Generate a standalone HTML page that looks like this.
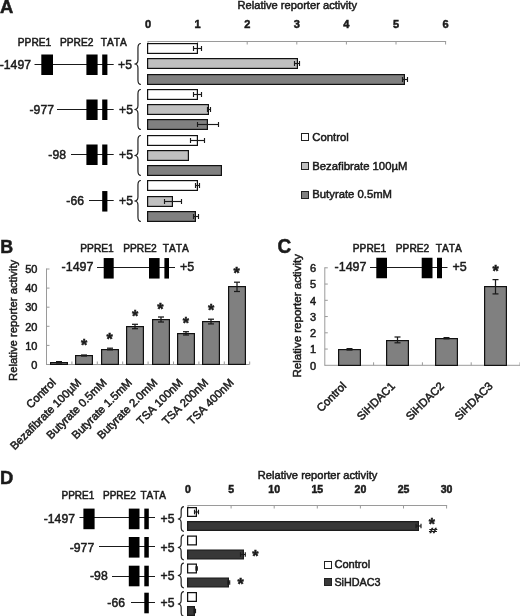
<!DOCTYPE html>
<html lang="en"><head><meta charset="utf-8"><title>Relative reporter activity</title>
<style>html,body{margin:0;padding:0;background:#fff}svg{display:block;filter:grayscale(1)}text{font-family:"Liberation Sans",sans-serif;fill:#1a1a1a;stroke:#1a1a1a;stroke-width:.5px;font-kerning:none;paint-order:stroke}</style></head><body>
<svg width="520" height="616" viewBox="0 0 520 616">
<rect width="520" height="616" fill="#fff"/>
<g id="panelA">
<text transform="translate(-0.1 12.7) scale(0.97 1)" font-size="19" font-weight="bold" stroke-width="0">A</text>
<text x="237.5" y="8.6" font-size="11.15" font-weight="normal" text-anchor="start">Relative reporter activity</text>
<text x="148" y="28" font-size="11" font-weight="bold" text-anchor="middle" stroke-width="0">0</text>
<line x1="148" y1="41.5" x2="148" y2="44.5" stroke="#9a9a9a" stroke-width="1"/>
<text x="197.6" y="28" font-size="11" font-weight="bold" text-anchor="middle" stroke-width="0">1</text>
<line x1="197.6" y1="41.5" x2="197.6" y2="44.5" stroke="#9a9a9a" stroke-width="1"/>
<text x="247.2" y="28" font-size="11" font-weight="bold" text-anchor="middle" stroke-width="0">2</text>
<line x1="247.2" y1="41.5" x2="247.2" y2="44.5" stroke="#9a9a9a" stroke-width="1"/>
<text x="296.8" y="28" font-size="11" font-weight="bold" text-anchor="middle" stroke-width="0">3</text>
<line x1="296.8" y1="41.5" x2="296.8" y2="44.5" stroke="#9a9a9a" stroke-width="1"/>
<text x="346.4" y="28" font-size="11" font-weight="bold" text-anchor="middle" stroke-width="0">4</text>
<line x1="346.4" y1="41.5" x2="346.4" y2="44.5" stroke="#9a9a9a" stroke-width="1"/>
<text x="396" y="28" font-size="11" font-weight="bold" text-anchor="middle" stroke-width="0">5</text>
<line x1="396" y1="41.5" x2="396" y2="44.5" stroke="#9a9a9a" stroke-width="1"/>
<text x="445.6" y="28" font-size="11" font-weight="bold" text-anchor="middle" stroke-width="0">6</text>
<line x1="445.6" y1="41.5" x2="445.6" y2="44.5" stroke="#9a9a9a" stroke-width="1"/>
<line x1="147.5" y1="41.5" x2="446.1" y2="41.5" stroke="#9a9a9a" stroke-width="1"/>
<text x="17.8" y="45.8" font-size="10.2" font-weight="normal" text-anchor="start" stroke-width="0.65">PPRE1</text>
<text x="60" y="45.8" font-size="10.2" font-weight="normal" text-anchor="start" stroke-width="0.65">PPRE2</text>
<text x="100.8" y="45.8" font-size="10.2" font-weight="normal" text-anchor="start" stroke-width="0.65">TATA</text>
<text transform="translate(31 68.8) scale(0.94 1)" font-size="13" font-weight="normal" text-anchor="end" stroke-width="0.6">-1497</text>
<line x1="34.5" y1="64.5" x2="113.7" y2="64.5" stroke="#1a1a1a" stroke-width="1"/>
<rect x="41.3" y="54.5" width="11.7" height="20.5" fill="#000"/>
<rect x="86.4" y="54.5" width="11.2" height="20.5" fill="#000"/>
<rect x="102.2" y="54.5" width="5.2" height="20.5" fill="#000"/>
<text transform="translate(118 68.8) scale(0.94 1)" font-size="13" font-weight="normal" text-anchor="start" stroke-width="0.6">+5</text>
<text transform="translate(54 113.8) scale(0.94 1)" font-size="13" font-weight="normal" text-anchor="end" stroke-width="0.6">-977</text>
<line x1="57" y1="109.5" x2="113.7" y2="109.5" stroke="#1a1a1a" stroke-width="1"/>
<rect x="86.4" y="99.5" width="11.2" height="20.5" fill="#000"/>
<rect x="102.2" y="99.5" width="5.2" height="20.5" fill="#000"/>
<text transform="translate(119 113.8) scale(0.94 1)" font-size="13" font-weight="normal" text-anchor="start" stroke-width="0.6">+5</text>
<text transform="translate(66 158.8) scale(0.94 1)" font-size="13" font-weight="normal" text-anchor="end" stroke-width="0.6">-98</text>
<line x1="71" y1="154.5" x2="113.7" y2="154.5" stroke="#1a1a1a" stroke-width="1"/>
<rect x="86.4" y="144.5" width="11.2" height="20.5" fill="#000"/>
<rect x="102.2" y="144.5" width="5.2" height="20.5" fill="#000"/>
<text transform="translate(119 158.8) scale(0.94 1)" font-size="13" font-weight="normal" text-anchor="start" stroke-width="0.6">+5</text>
<text transform="translate(84 204.8) scale(0.94 1)" font-size="13" font-weight="normal" text-anchor="end" stroke-width="0.6">-66</text>
<line x1="89" y1="200.5" x2="113.7" y2="200.5" stroke="#1a1a1a" stroke-width="1"/>
<rect x="102.2" y="191.05" width="5.2" height="20.5" fill="#000"/>
<text transform="translate(119 204.8) scale(0.94 1)" font-size="13" font-weight="normal" text-anchor="start" stroke-width="0.6">+5</text>
<rect x="147.6" y="43.6" width="49.8" height="9.8" fill="#fff" stroke="#111" stroke-width="1.2"/>
<line x1="193.5" y1="48.5" x2="201.5" y2="48.5" stroke="#1a1a1a" stroke-width="1.15"/>
<line x1="193.5" y1="46" x2="193.5" y2="51" stroke="#1a1a1a" stroke-width="1.15"/>
<line x1="201.5" y1="46" x2="201.5" y2="51" stroke="#1a1a1a" stroke-width="1.15"/>
<rect x="147.6" y="58.6" width="149.8" height="9.8" fill="#c0c0c0" stroke="#111" stroke-width="1.2"/>
<line x1="294.5" y1="63.5" x2="299.5" y2="63.5" stroke="#1a1a1a" stroke-width="1.15"/>
<line x1="294.5" y1="61" x2="294.5" y2="66" stroke="#1a1a1a" stroke-width="1.15"/>
<line x1="299.5" y1="61" x2="299.5" y2="66" stroke="#1a1a1a" stroke-width="1.15"/>
<rect x="147.6" y="74.6" width="256.8" height="9.8" fill="#808080" stroke="#111" stroke-width="1.2"/>
<line x1="402.5" y1="79.5" x2="407.5" y2="79.5" stroke="#1a1a1a" stroke-width="1.15"/>
<line x1="402.5" y1="77" x2="402.5" y2="82" stroke="#1a1a1a" stroke-width="1.15"/>
<line x1="407.5" y1="77" x2="407.5" y2="82" stroke="#1a1a1a" stroke-width="1.15"/>
<rect x="147.6" y="89.6" width="49.8" height="9.8" fill="#fff" stroke="#111" stroke-width="1.2"/>
<line x1="193.5" y1="94.5" x2="201.5" y2="94.5" stroke="#1a1a1a" stroke-width="1.15"/>
<line x1="193.5" y1="92" x2="193.5" y2="97" stroke="#1a1a1a" stroke-width="1.15"/>
<line x1="201.5" y1="92" x2="201.5" y2="97" stroke="#1a1a1a" stroke-width="1.15"/>
<rect x="147.6" y="104.6" width="60.8" height="9.8" fill="#c0c0c0" stroke="#111" stroke-width="1.2"/>
<line x1="207.5" y1="109.5" x2="210.5" y2="109.5" stroke="#1a1a1a" stroke-width="1.15"/>
<line x1="207.5" y1="107" x2="207.5" y2="112" stroke="#1a1a1a" stroke-width="1.15"/>
<line x1="210.5" y1="107" x2="210.5" y2="112" stroke="#1a1a1a" stroke-width="1.15"/>
<rect x="147.6" y="119.6" width="59.8" height="9.8" fill="#808080" stroke="#111" stroke-width="1.2"/>
<line x1="197.5" y1="124.5" x2="218.5" y2="124.5" stroke="#1a1a1a" stroke-width="1.15"/>
<line x1="197.5" y1="122" x2="197.5" y2="127" stroke="#1a1a1a" stroke-width="1.15"/>
<line x1="218.5" y1="122" x2="218.5" y2="127" stroke="#1a1a1a" stroke-width="1.15"/>
<rect x="147.6" y="135.6" width="49.8" height="9.8" fill="#fff" stroke="#111" stroke-width="1.2"/>
<line x1="190.5" y1="140.5" x2="204.5" y2="140.5" stroke="#1a1a1a" stroke-width="1.15"/>
<line x1="190.5" y1="138" x2="190.5" y2="143" stroke="#1a1a1a" stroke-width="1.15"/>
<line x1="204.5" y1="138" x2="204.5" y2="143" stroke="#1a1a1a" stroke-width="1.15"/>
<rect x="147.6" y="150.6" width="40.8" height="9.8" fill="#c0c0c0" stroke="#111" stroke-width="1.2"/>
<rect x="147.6" y="165.6" width="73.8" height="9.8" fill="#808080" stroke="#111" stroke-width="1.2"/>
<rect x="147.6" y="180.6" width="49.8" height="9.8" fill="#fff" stroke="#111" stroke-width="1.2"/>
<line x1="195.5" y1="185.5" x2="199.5" y2="185.5" stroke="#1a1a1a" stroke-width="1.15"/>
<line x1="195.5" y1="183" x2="195.5" y2="188" stroke="#1a1a1a" stroke-width="1.15"/>
<line x1="199.5" y1="183" x2="199.5" y2="188" stroke="#1a1a1a" stroke-width="1.15"/>
<rect x="147.6" y="196.6" width="24.8" height="9.8" fill="#c0c0c0" stroke="#111" stroke-width="1.2"/>
<line x1="164.5" y1="201.5" x2="181.5" y2="201.5" stroke="#1a1a1a" stroke-width="1.15"/>
<line x1="164.5" y1="199" x2="164.5" y2="204" stroke="#1a1a1a" stroke-width="1.15"/>
<line x1="181.5" y1="199" x2="181.5" y2="204" stroke="#1a1a1a" stroke-width="1.15"/>
<rect x="147.6" y="211.6" width="47.8" height="9.8" fill="#808080" stroke="#111" stroke-width="1.2"/>
<line x1="193.5" y1="216.5" x2="198.5" y2="216.5" stroke="#1a1a1a" stroke-width="1.15"/>
<line x1="193.5" y1="214" x2="193.5" y2="219" stroke="#1a1a1a" stroke-width="1.15"/>
<line x1="198.5" y1="214" x2="198.5" y2="219" stroke="#1a1a1a" stroke-width="1.15"/>
<path d="M140.9 43.5 Q137.95 43.5 137.95 47.95 L137.95 60.05 Q137.95 64 134.4 64 Q137.95 64 137.95 67.95 L137.95 80.05 Q137.95 84.5 140.9 84.5" fill="none" stroke="#222" stroke-width="1.2"/>
<path d="M140.9 89.5 Q137.95 89.5 137.95 93.95 L137.95 105.55 Q137.95 109.5 134.4 109.5 Q137.95 109.5 137.95 113.45 L137.95 125.05 Q137.95 129.5 140.9 129.5" fill="none" stroke="#222" stroke-width="1.2"/>
<path d="M140.9 135.5 Q137.95 135.5 137.95 139.95 L137.95 151.55 Q137.95 155.5 134.4 155.5 Q137.95 155.5 137.95 159.45 L137.95 171.05 Q137.95 175.5 140.9 175.5" fill="none" stroke="#222" stroke-width="1.2"/>
<path d="M140.9 180.5 Q137.95 180.5 137.95 184.95 L137.95 197.05 Q137.95 201 134.4 201 Q137.95 201 137.95 204.95 L137.95 217.05 Q137.95 221.5 140.9 221.5" fill="none" stroke="#222" stroke-width="1.2"/>
<rect x="301.5" y="133.5" width="7" height="7" fill="#fff" stroke="#222" stroke-width="1"/>
<text x="312.3" y="140.6" font-size="11.3" font-weight="normal" text-anchor="start">Control</text>
<rect x="301.5" y="162.5" width="7" height="7" fill="#c0c0c0" stroke="#222" stroke-width="1"/>
<text x="312.3" y="169.5" font-size="11.3" font-weight="normal" text-anchor="start">Bezafibrate 100µM</text>
<rect x="301.5" y="191.5" width="7" height="7" fill="#808080" stroke="#222" stroke-width="1"/>
<text x="312.3" y="198.3" font-size="11.3" font-weight="normal" text-anchor="start">Butyrate 0.5mM</text>
</g>
<g id="panelB">
<text transform="translate(0.2 253.4) scale(0.94 1)" font-size="19" font-weight="bold" stroke-width="0">B</text>
<text transform="translate(16.6 320.4) rotate(-90)" font-size="11.3" text-anchor="middle">Relative reporter activity</text>
<text x="37.4" y="368.7" font-size="11" font-weight="normal" text-anchor="end" stroke-width="0.7">0</text>
<text x="37.4" y="349.6" font-size="11" font-weight="normal" text-anchor="end" stroke-width="0.7">10</text>
<line x1="46.5" y1="345.4" x2="49.5" y2="345.4" stroke="#9a9a9a" stroke-width="1"/>
<text x="37.4" y="330.5" font-size="11" font-weight="normal" text-anchor="end" stroke-width="0.7">20</text>
<line x1="46.5" y1="326.3" x2="49.5" y2="326.3" stroke="#9a9a9a" stroke-width="1"/>
<text x="37.4" y="311.4" font-size="11" font-weight="normal" text-anchor="end" stroke-width="0.7">30</text>
<line x1="46.5" y1="307.2" x2="49.5" y2="307.2" stroke="#9a9a9a" stroke-width="1"/>
<text x="37.4" y="292.3" font-size="11" font-weight="normal" text-anchor="end" stroke-width="0.7">40</text>
<line x1="46.5" y1="288.1" x2="49.5" y2="288.1" stroke="#9a9a9a" stroke-width="1"/>
<text x="37.4" y="273.2" font-size="11" font-weight="normal" text-anchor="end" stroke-width="0.7">50</text>
<line x1="46.5" y1="269" x2="49.5" y2="269" stroke="#9a9a9a" stroke-width="1"/>
<line x1="46.5" y1="268.5" x2="46.5" y2="365" stroke="#9a9a9a" stroke-width="1"/>
<line x1="46.5" y1="364.5" x2="249.5" y2="364.5" stroke="#9a9a9a" stroke-width="1"/>
<line x1="71.9" y1="361.5" x2="71.9" y2="364.5" stroke="#9a9a9a" stroke-width="1"/>
<line x1="97.3" y1="361.5" x2="97.3" y2="364.5" stroke="#9a9a9a" stroke-width="1"/>
<line x1="122.7" y1="361.5" x2="122.7" y2="364.5" stroke="#9a9a9a" stroke-width="1"/>
<line x1="148.1" y1="361.5" x2="148.1" y2="364.5" stroke="#9a9a9a" stroke-width="1"/>
<line x1="173.5" y1="361.5" x2="173.5" y2="364.5" stroke="#9a9a9a" stroke-width="1"/>
<line x1="198.9" y1="361.5" x2="198.9" y2="364.5" stroke="#9a9a9a" stroke-width="1"/>
<line x1="224.3" y1="361.5" x2="224.3" y2="364.5" stroke="#9a9a9a" stroke-width="1"/>
<line x1="249.7" y1="361.5" x2="249.7" y2="364.5" stroke="#9a9a9a" stroke-width="1"/>
<text x="80.3" y="252.2" font-size="10.2" font-weight="normal" text-anchor="start" stroke-width="0.65">PPRE1</text>
<text x="123.2" y="252.2" font-size="10.2" font-weight="normal" text-anchor="start" stroke-width="0.65">PPRE2</text>
<text x="162.8" y="252.2" font-size="10.2" font-weight="normal" text-anchor="start" stroke-width="0.65">TATA</text>
<text transform="translate(93.5 271.3) scale(0.94 1)" font-size="13.3" font-weight="normal" text-anchor="end" stroke-width="0.6">-1497</text>
<line x1="97" y1="267.5" x2="175" y2="267.5" stroke="#1a1a1a" stroke-width="1"/>
<rect x="103.7" y="258.05" width="10" height="20.5" fill="#000"/>
<rect x="149" y="258.05" width="10.6" height="20.5" fill="#000"/>
<rect x="164.4" y="258.05" width="4.6" height="20.5" fill="#000"/>
<text transform="translate(180 271.3) scale(0.94 1)" font-size="13.3" font-weight="normal" text-anchor="start" stroke-width="0.6">+5</text>
<rect x="50.6" y="362.6" width="16.8" height="1.8" fill="#808080" stroke="#111" stroke-width="1.2"/>
<line x1="59" y1="361.6" x2="59" y2="363" stroke="#1a1a1a" stroke-width="1.25"/>
<line x1="56" y1="361.6" x2="62" y2="361.6" stroke="#1a1a1a" stroke-width="1.25"/>
<line x1="56" y1="363" x2="62" y2="363" stroke="#1a1a1a" stroke-width="1.25"/>
<text transform="translate(56.5 383.3) rotate(-45)" font-size="11.3" text-anchor="end">Control</text>
<rect x="75.6" y="355.6" width="16.8" height="8.8" fill="#808080" stroke="#111" stroke-width="1.2"/>
<line x1="84" y1="355" x2="84" y2="356" stroke="#1a1a1a" stroke-width="1.25"/>
<line x1="81" y1="355" x2="87" y2="355" stroke="#1a1a1a" stroke-width="1.25"/>
<line x1="81" y1="356" x2="87" y2="356" stroke="#1a1a1a" stroke-width="1.25"/>
<text x="84.2" y="350.82" font-size="16" font-weight="bold" text-anchor="middle" stroke-width="0">*</text>
<text transform="translate(81.9 383.3) rotate(-45)" font-size="11.3" text-anchor="end">Bezafibrate 100µM</text>
<rect x="101.6" y="349.6" width="16.8" height="14.8" fill="#808080" stroke="#111" stroke-width="1.2"/>
<line x1="110" y1="348.2" x2="110" y2="349.8" stroke="#1a1a1a" stroke-width="1.25"/>
<line x1="107" y1="348.2" x2="113" y2="348.2" stroke="#1a1a1a" stroke-width="1.25"/>
<line x1="107" y1="349.8" x2="113" y2="349.8" stroke="#1a1a1a" stroke-width="1.25"/>
<text x="109.6" y="345.32" font-size="16" font-weight="bold" text-anchor="middle" stroke-width="0">*</text>
<text transform="translate(107.3 383.3) rotate(-45)" font-size="11.3" text-anchor="end">Butyrate 0.5mM</text>
<rect x="126.6" y="326.6" width="16.8" height="37.8" fill="#808080" stroke="#111" stroke-width="1.2"/>
<line x1="135" y1="324.3" x2="135" y2="328.7" stroke="#1a1a1a" stroke-width="1.25"/>
<line x1="132" y1="324.3" x2="138" y2="324.3" stroke="#1a1a1a" stroke-width="1.25"/>
<line x1="132" y1="328.7" x2="138" y2="328.7" stroke="#1a1a1a" stroke-width="1.25"/>
<text x="135" y="321.92" font-size="16" font-weight="bold" text-anchor="middle" stroke-width="0">*</text>
<text transform="translate(132.7 383.3) rotate(-45)" font-size="11.3" text-anchor="end">Butyrate 1.5mM</text>
<rect x="152.6" y="319.6" width="16.8" height="44.8" fill="#808080" stroke="#111" stroke-width="1.2"/>
<line x1="161" y1="317" x2="161" y2="322" stroke="#1a1a1a" stroke-width="1.25"/>
<line x1="158" y1="317" x2="164" y2="317" stroke="#1a1a1a" stroke-width="1.25"/>
<line x1="158" y1="322" x2="164" y2="322" stroke="#1a1a1a" stroke-width="1.25"/>
<text x="160.4" y="314.72" font-size="16" font-weight="bold" text-anchor="middle" stroke-width="0">*</text>
<text transform="translate(158.1 383.3) rotate(-45)" font-size="11.3" text-anchor="end">Butyrate 2.0mM</text>
<rect x="177.6" y="333.6" width="16.8" height="30.8" fill="#808080" stroke="#111" stroke-width="1.2"/>
<line x1="186" y1="331.7" x2="186" y2="335" stroke="#1a1a1a" stroke-width="1.25"/>
<line x1="183" y1="331.7" x2="189" y2="331.7" stroke="#1a1a1a" stroke-width="1.25"/>
<line x1="183" y1="335" x2="189" y2="335" stroke="#1a1a1a" stroke-width="1.25"/>
<text x="185.8" y="328.92" font-size="16" font-weight="bold" text-anchor="middle" stroke-width="0">*</text>
<text transform="translate(183.5 383.3) rotate(-45)" font-size="11.3" text-anchor="end">TSA 100nM</text>
<rect x="202.6" y="321.6" width="16.8" height="42.8" fill="#808080" stroke="#111" stroke-width="1.2"/>
<line x1="211" y1="319.2" x2="211" y2="323.9" stroke="#1a1a1a" stroke-width="1.25"/>
<line x1="208" y1="319.2" x2="214" y2="319.2" stroke="#1a1a1a" stroke-width="1.25"/>
<line x1="208" y1="323.9" x2="214" y2="323.9" stroke="#1a1a1a" stroke-width="1.25"/>
<text x="211.2" y="315.52" font-size="16" font-weight="bold" text-anchor="middle" stroke-width="0">*</text>
<text transform="translate(208.9 383.3) rotate(-45)" font-size="11.3" text-anchor="end">TSA 200nM</text>
<rect x="228.6" y="286.6" width="16.8" height="77.8" fill="#808080" stroke="#111" stroke-width="1.2"/>
<line x1="237" y1="282.2" x2="237" y2="291.5" stroke="#1a1a1a" stroke-width="1.25"/>
<line x1="234" y1="282.2" x2="240" y2="282.2" stroke="#1a1a1a" stroke-width="1.25"/>
<line x1="234" y1="291.5" x2="240" y2="291.5" stroke="#1a1a1a" stroke-width="1.25"/>
<text x="236.6" y="279.12" font-size="16" font-weight="bold" text-anchor="middle" stroke-width="0">*</text>
<text transform="translate(234.3 383.3) rotate(-45)" font-size="11.3" text-anchor="end">TSA 400nM</text>
</g>
<g id="panelC">
<text transform="translate(277.6 253.4) scale(0.95 1)" font-size="20" font-weight="bold" stroke-width="0">C</text>
<text transform="translate(301.1 315.8) rotate(-90)" font-size="11.5" text-anchor="middle">Relative reporter activity</text>
<text x="316" y="369.6" font-size="11" font-weight="normal" text-anchor="end" stroke-width="0.7">0</text>
<text x="316" y="353.35" font-size="11" font-weight="normal" text-anchor="end" stroke-width="0.7">1</text>
<line x1="324.8" y1="349.05" x2="327.8" y2="349.05" stroke="#9a9a9a" stroke-width="1"/>
<text x="316" y="337.1" font-size="11" font-weight="normal" text-anchor="end" stroke-width="0.7">2</text>
<line x1="324.8" y1="332.8" x2="327.8" y2="332.8" stroke="#9a9a9a" stroke-width="1"/>
<text x="316" y="320.85" font-size="11" font-weight="normal" text-anchor="end" stroke-width="0.7">3</text>
<line x1="324.8" y1="316.55" x2="327.8" y2="316.55" stroke="#9a9a9a" stroke-width="1"/>
<text x="316" y="304.6" font-size="11" font-weight="normal" text-anchor="end" stroke-width="0.7">4</text>
<line x1="324.8" y1="300.3" x2="327.8" y2="300.3" stroke="#9a9a9a" stroke-width="1"/>
<text x="316" y="288.35" font-size="11" font-weight="normal" text-anchor="end" stroke-width="0.7">5</text>
<line x1="324.8" y1="284.05" x2="327.8" y2="284.05" stroke="#9a9a9a" stroke-width="1"/>
<text x="316" y="272.1" font-size="11" font-weight="normal" text-anchor="end" stroke-width="0.7">6</text>
<line x1="324.8" y1="267.8" x2="327.8" y2="267.8" stroke="#9a9a9a" stroke-width="1"/>
<line x1="324.8" y1="267.3" x2="324.8" y2="365.8" stroke="#9a9a9a" stroke-width="1"/>
<line x1="324.8" y1="365.3" x2="520" y2="365.3" stroke="#9a9a9a" stroke-width="1"/>
<line x1="373.6" y1="362.3" x2="373.6" y2="365.3" stroke="#9a9a9a" stroke-width="1"/>
<line x1="422.4" y1="362.3" x2="422.4" y2="365.3" stroke="#9a9a9a" stroke-width="1"/>
<line x1="471.2" y1="362.3" x2="471.2" y2="365.3" stroke="#9a9a9a" stroke-width="1"/>
<line x1="520" y1="362.3" x2="520" y2="365.3" stroke="#9a9a9a" stroke-width="1"/>
<text x="352.8" y="252.3" font-size="10.2" font-weight="normal" text-anchor="start" stroke-width="0.65">PPRE1</text>
<text x="395.8" y="252.3" font-size="10.2" font-weight="normal" text-anchor="start" stroke-width="0.65">PPRE2</text>
<text x="435.7" y="252.3" font-size="10.2" font-weight="normal" text-anchor="start" stroke-width="0.65">TATA</text>
<text transform="translate(366.5 271.1) scale(0.94 1)" font-size="13.3" font-weight="normal" text-anchor="end" stroke-width="0.6">-1497</text>
<line x1="370" y1="267.5" x2="447.5" y2="267.5" stroke="#1a1a1a" stroke-width="1"/>
<rect x="376.3" y="257.75" width="10.7" height="20.5" fill="#000"/>
<rect x="421.7" y="257.75" width="10.8" height="20.5" fill="#000"/>
<rect x="437" y="257.75" width="5" height="20.5" fill="#000"/>
<text transform="translate(452.5 271.1) scale(0.94 1)" font-size="13.3" font-weight="normal" text-anchor="start" stroke-width="0.6">+5</text>
<rect x="338.6" y="349.6" width="21.8" height="15.8" fill="#808080" stroke="#111" stroke-width="1.2"/>
<line x1="349.5" y1="348.6" x2="349.5" y2="350" stroke="#1a1a1a" stroke-width="1.25"/>
<line x1="346.5" y1="348.6" x2="352.5" y2="348.6" stroke="#1a1a1a" stroke-width="1.25"/>
<line x1="346.5" y1="350" x2="352.5" y2="350" stroke="#1a1a1a" stroke-width="1.25"/>
<text transform="translate(347 386.7) rotate(-45)" font-size="11.3" text-anchor="end">Control</text>
<rect x="386.6" y="340.6" width="21.8" height="24.8" fill="#808080" stroke="#111" stroke-width="1.2"/>
<line x1="397.5" y1="337" x2="397.5" y2="342.8" stroke="#1a1a1a" stroke-width="1.25"/>
<line x1="394.5" y1="337" x2="400.5" y2="337" stroke="#1a1a1a" stroke-width="1.25"/>
<line x1="394.5" y1="342.8" x2="400.5" y2="342.8" stroke="#1a1a1a" stroke-width="1.25"/>
<text transform="translate(395.8 386.7) rotate(-45)" font-size="11.3" text-anchor="end">SiHDAC1</text>
<rect x="435.6" y="338.6" width="21.8" height="26.8" fill="#808080" stroke="#111" stroke-width="1.2"/>
<line x1="446.5" y1="337.6" x2="446.5" y2="338.8" stroke="#1a1a1a" stroke-width="1.25"/>
<line x1="443.5" y1="337.6" x2="449.5" y2="337.6" stroke="#1a1a1a" stroke-width="1.25"/>
<line x1="443.5" y1="338.8" x2="449.5" y2="338.8" stroke="#1a1a1a" stroke-width="1.25"/>
<text transform="translate(444.6 386.7) rotate(-45)" font-size="11.3" text-anchor="end">SiHDAC2</text>
<rect x="484.6" y="286.6" width="21.8" height="78.8" fill="#808080" stroke="#111" stroke-width="1.2"/>
<line x1="495.5" y1="279.6" x2="495.5" y2="293.9" stroke="#1a1a1a" stroke-width="1.25"/>
<line x1="492.5" y1="279.6" x2="498.5" y2="279.6" stroke="#1a1a1a" stroke-width="1.25"/>
<line x1="492.5" y1="293.9" x2="498.5" y2="293.9" stroke="#1a1a1a" stroke-width="1.25"/>
<text x="495.7" y="277.32" font-size="16" font-weight="bold" text-anchor="middle" stroke-width="0">*</text>
<text transform="translate(493.4 386.7) rotate(-45)" font-size="11.3" text-anchor="end">SiHDAC3</text>
</g>
<g id="panelD">
<text transform="translate(0 483.6) scale(0.97 1)" font-size="19" font-weight="bold" stroke-width="0">D</text>
<text x="257.8" y="479" font-size="11.15" font-weight="normal" text-anchor="start">Relative reporter activity</text>
<text x="188" y="492.7" font-size="10.5" font-weight="bold" text-anchor="middle" stroke-width="0">0</text>
<line x1="188" y1="505.5" x2="188" y2="508.5" stroke="#9a9a9a" stroke-width="1"/>
<text x="231.1" y="492.7" font-size="10.5" font-weight="bold" text-anchor="middle" stroke-width="0">5</text>
<line x1="231.1" y1="505.5" x2="231.1" y2="508.5" stroke="#9a9a9a" stroke-width="1"/>
<text x="274.2" y="492.7" font-size="10.5" font-weight="bold" text-anchor="middle" stroke-width="0">10</text>
<line x1="274.2" y1="505.5" x2="274.2" y2="508.5" stroke="#9a9a9a" stroke-width="1"/>
<text x="317.3" y="492.7" font-size="10.5" font-weight="bold" text-anchor="middle" stroke-width="0">15</text>
<line x1="317.3" y1="505.5" x2="317.3" y2="508.5" stroke="#9a9a9a" stroke-width="1"/>
<text x="360.4" y="492.7" font-size="10.5" font-weight="bold" text-anchor="middle" stroke-width="0">20</text>
<line x1="360.4" y1="505.5" x2="360.4" y2="508.5" stroke="#9a9a9a" stroke-width="1"/>
<text x="403.5" y="492.7" font-size="10.5" font-weight="bold" text-anchor="middle" stroke-width="0">25</text>
<line x1="403.5" y1="505.5" x2="403.5" y2="508.5" stroke="#9a9a9a" stroke-width="1"/>
<text x="446.6" y="492.7" font-size="10.5" font-weight="bold" text-anchor="middle" stroke-width="0">30</text>
<line x1="446.6" y1="505.5" x2="446.6" y2="508.5" stroke="#9a9a9a" stroke-width="1"/>
<line x1="187.5" y1="505.5" x2="447.1" y2="505.5" stroke="#9a9a9a" stroke-width="1"/>
<text x="61.5" y="499.2" font-size="10" font-weight="normal" text-anchor="start" stroke-width="0.65">PPRE1</text>
<text x="103" y="499.2" font-size="10" font-weight="normal" text-anchor="start" stroke-width="0.65">PPRE2</text>
<text x="140.4" y="499.2" font-size="10" font-weight="normal" text-anchor="start" stroke-width="0.65">TATA</text>
<text transform="translate(75 523.1) scale(0.94 1)" font-size="13" font-weight="normal" text-anchor="end" stroke-width="0.6">-1497</text>
<line x1="79.5" y1="517.5" x2="155" y2="517.5" stroke="#1a1a1a" stroke-width="1"/>
<rect x="83.4" y="508.6" width="11.2" height="20.6" fill="#000"/>
<rect x="128.8" y="508.6" width="10.7" height="20.6" fill="#000"/>
<rect x="144.3" y="508.6" width="4.5" height="20.6" fill="#000"/>
<text transform="translate(160.6 523.1) scale(0.94 1)" font-size="13" font-weight="normal" text-anchor="start" stroke-width="0.6">+5</text>
<text transform="translate(94.2 551.5) scale(0.94 1)" font-size="13" font-weight="normal" text-anchor="end" stroke-width="0.6">-977</text>
<line x1="99" y1="546.5" x2="155" y2="546.5" stroke="#1a1a1a" stroke-width="1"/>
<rect x="128.8" y="537" width="10.7" height="20.6" fill="#000"/>
<rect x="144.3" y="537" width="4.5" height="20.6" fill="#000"/>
<text transform="translate(160.6 551.5) scale(0.94 1)" font-size="13" font-weight="normal" text-anchor="start" stroke-width="0.6">+5</text>
<text transform="translate(107.7 580.2) scale(0.94 1)" font-size="13" font-weight="normal" text-anchor="end" stroke-width="0.6">-98</text>
<line x1="112" y1="576.5" x2="155" y2="576.5" stroke="#1a1a1a" stroke-width="1"/>
<rect x="128.8" y="565.7" width="10.7" height="20.6" fill="#000"/>
<rect x="144.3" y="565.7" width="4.5" height="20.6" fill="#000"/>
<text transform="translate(160.6 580.2) scale(0.94 1)" font-size="13" font-weight="normal" text-anchor="start" stroke-width="0.6">+5</text>
<text transform="translate(125 607.2) scale(0.94 1)" font-size="13" font-weight="normal" text-anchor="end" stroke-width="0.6">-66</text>
<line x1="131" y1="602.5" x2="155" y2="602.5" stroke="#1a1a1a" stroke-width="1"/>
<rect x="144.3" y="592.7" width="4.5" height="20.6" fill="#000"/>
<text transform="translate(160.6 607.2) scale(0.94 1)" font-size="13" font-weight="normal" text-anchor="start" stroke-width="0.6">+5</text>
<rect x="187.62" y="507.62" width="8.75" height="8.75" fill="#fff" stroke="#111" stroke-width="1.25"/>
<line x1="194.5" y1="512" x2="198.5" y2="512" stroke="#1a1a1a" stroke-width="1.15"/>
<line x1="194.5" y1="509.7" x2="194.5" y2="514.3" stroke="#1a1a1a" stroke-width="1.15"/>
<line x1="198.5" y1="509.7" x2="198.5" y2="514.3" stroke="#1a1a1a" stroke-width="1.15"/>
<rect x="187.62" y="521.62" width="230.75" height="8.75" fill="#383838" stroke="#1c1c1c" stroke-width="1.25"/>
<line x1="416" y1="526" x2="421" y2="526" stroke="#1a1a1a" stroke-width="1.15"/>
<line x1="416" y1="523.7" x2="416" y2="528.3" stroke="#1a1a1a" stroke-width="1.15"/>
<line x1="421" y1="523.7" x2="421" y2="528.3" stroke="#1a1a1a" stroke-width="1.15"/>
<rect x="187.62" y="536.12" width="8.75" height="8.75" fill="#fff" stroke="#111" stroke-width="1.25"/>
<rect x="187.62" y="550.12" width="55.75" height="8.75" fill="#383838" stroke="#1c1c1c" stroke-width="1.25"/>
<line x1="240.5" y1="554.5" x2="245.3" y2="554.5" stroke="#1a1a1a" stroke-width="1.15"/>
<line x1="240.5" y1="552.2" x2="240.5" y2="556.8" stroke="#1a1a1a" stroke-width="1.15"/>
<line x1="245.3" y1="552.2" x2="245.3" y2="556.8" stroke="#1a1a1a" stroke-width="1.15"/>
<rect x="187.62" y="564.12" width="8.75" height="8.75" fill="#fff" stroke="#111" stroke-width="1.25"/>
<line x1="196" y1="568.5" x2="197.3" y2="568.5" stroke="#1a1a1a" stroke-width="1.15"/>
<line x1="196" y1="566.2" x2="196" y2="570.8" stroke="#1a1a1a" stroke-width="1.15"/>
<line x1="197.3" y1="566.2" x2="197.3" y2="570.8" stroke="#1a1a1a" stroke-width="1.15"/>
<rect x="187.62" y="578.12" width="40.75" height="8.75" fill="#383838" stroke="#1c1c1c" stroke-width="1.25"/>
<line x1="228" y1="582.5" x2="229.7" y2="582.5" stroke="#1a1a1a" stroke-width="1.15"/>
<line x1="228" y1="580.2" x2="228" y2="584.8" stroke="#1a1a1a" stroke-width="1.15"/>
<line x1="229.7" y1="580.2" x2="229.7" y2="584.8" stroke="#1a1a1a" stroke-width="1.15"/>
<rect x="187.62" y="592.62" width="8.75" height="8.75" fill="#fff" stroke="#111" stroke-width="1.25"/>
<rect x="187.62" y="606.62" width="6.75" height="8.75" fill="#383838" stroke="#1c1c1c" stroke-width="1.25"/>
<line x1="194" y1="611" x2="195.5" y2="611" stroke="#1a1a1a" stroke-width="1.15"/>
<line x1="194" y1="608.7" x2="194" y2="613.3" stroke="#1a1a1a" stroke-width="1.15"/>
<line x1="195.5" y1="608.7" x2="195.5" y2="613.3" stroke="#1a1a1a" stroke-width="1.15"/>
<path d="M183.9 506.7 Q181.15 506.7 181.15 510.95 L181.15 515.25 Q181.15 519 177.8 519 Q181.15 519 181.15 522.75 L181.15 527.05 Q181.15 531.3 183.9 531.3" fill="none" stroke="#222" stroke-width="1.2"/>
<path d="M183.9 535.2 Q181.15 535.2 181.15 539.45 L181.15 543.75 Q181.15 547.5 177.8 547.5 Q181.15 547.5 181.15 551.25 L181.15 555.55 Q181.15 559.8 183.9 559.8" fill="none" stroke="#222" stroke-width="1.2"/>
<path d="M183.9 563.2 Q181.15 563.2 181.15 567.45 L181.15 571.75 Q181.15 575.5 177.8 575.5 Q181.15 575.5 181.15 579.25 L181.15 583.55 Q181.15 587.8 183.9 587.8" fill="none" stroke="#222" stroke-width="1.2"/>
<path d="M183.9 591.7 Q181.15 591.7 181.15 595.95 L181.15 600.25 Q181.15 604 177.8 604 Q181.15 604 181.15 607.75 L181.15 612.05 Q181.15 616.3 183.9 616.3" fill="none" stroke="#222" stroke-width="1.2"/>
<text x="431.9" y="530.02" font-size="16" font-weight="bold" text-anchor="middle" stroke-width="0">*</text>
<text transform="translate(433 533.4) scale(1.24 0.67)" font-size="12" font-weight="bold" text-anchor="middle" stroke-width="0">#</text>
<text x="255.4" y="561.82" font-size="16" font-weight="bold" text-anchor="middle" stroke-width="0">*</text>
<text x="240.5" y="590.32" font-size="16" font-weight="bold" text-anchor="middle" stroke-width="0">*</text>
<rect x="324.5" y="561.5" width="7" height="7" fill="#fff" stroke="#222" stroke-width="1"/>
<text x="334.4" y="568.2" font-size="11.1" font-weight="normal" text-anchor="start">Control</text>
<rect x="324.5" y="578.5" width="7" height="7" fill="#383838" stroke="#222" stroke-width="1"/>
<text x="334.4" y="585.6" font-size="10.8" font-weight="normal" text-anchor="start">SiHDAC3</text>
</g>
</svg></body></html>
